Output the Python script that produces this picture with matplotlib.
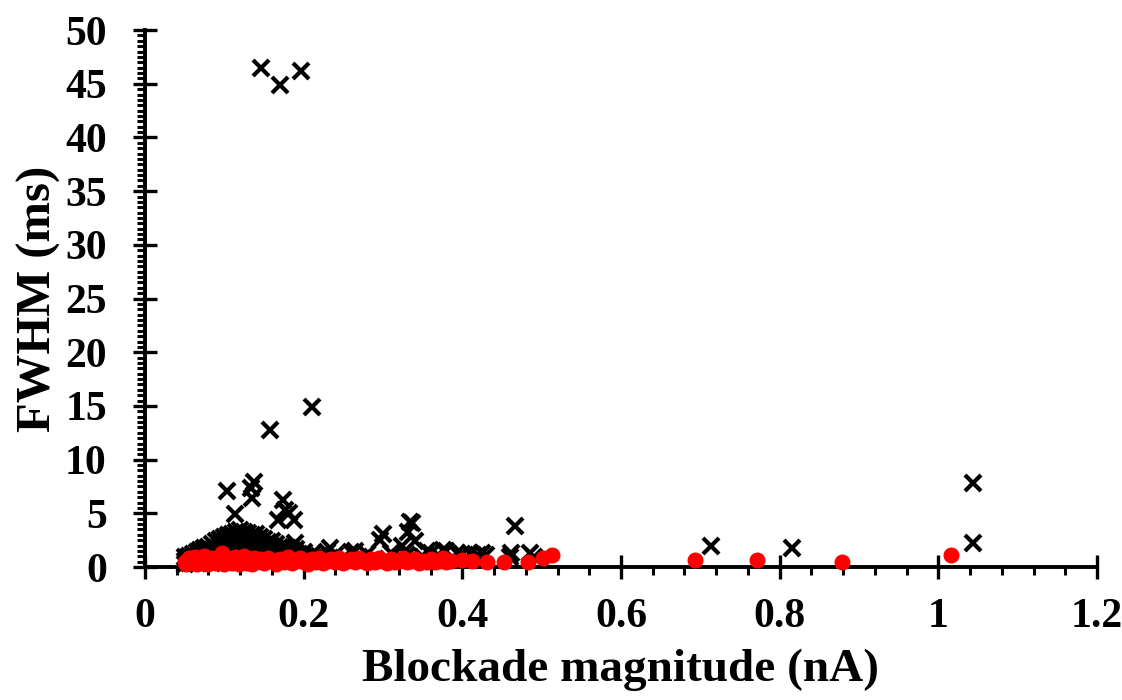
import matplotlib
matplotlib.use("Agg")
import matplotlib.pyplot as plt
from matplotlib.ticker import MultipleLocator

plt.rcParams["font.family"] = ["Liberation Serif", "DejaVu Serif"]
plt.rcParams["font.weight"] = "bold"

# Blockade events of the first population (black crosses): magnitude (nA), FWHM (ms)
cross_x = [
    0.050, 0.050, 0.050, 0.055, 0.055, 0.060, 0.060, 0.060, 0.065, 0.065, 0.065,
    0.070, 0.070, 0.070, 0.075, 0.075, 0.075, 0.075, 0.080, 0.080, 0.080,
    0.085, 0.085, 0.085, 0.085, 0.090, 0.090, 0.090, 0.090, 0.095, 0.095, 0.095, 0.095,
    0.100, 0.100, 0.100, 0.100, 0.100, 0.105, 0.105, 0.105, 0.105, 0.105,
    0.110, 0.110, 0.110, 0.110, 0.110, 0.115, 0.115, 0.115, 0.115, 0.115,
    0.120, 0.120, 0.120, 0.120, 0.120, 0.120, 0.125, 0.125, 0.125, 0.125, 0.125,
    0.130, 0.130, 0.130, 0.130, 0.130, 0.135, 0.135, 0.135, 0.135,
    0.140, 0.140, 0.140, 0.140, 0.140, 0.145, 0.145, 0.145, 0.145,
    0.150, 0.150, 0.150, 0.150, 0.155, 0.155, 0.155, 0.160, 0.160, 0.160, 0.160,
    0.165, 0.165, 0.165, 0.170, 0.170, 0.170, 0.175, 0.175, 0.175,
    0.180, 0.180, 0.180, 0.185, 0.185, 0.190, 0.190, 0.190, 0.200, 0.200,
    0.210, 0.210, 0.220, 0.230,
    0.233, 0.240, 0.250, 0.265, 0.270, 0.280, 0.290, 0.310, 0.320, 0.330,
    0.350, 0.355, 0.370, 0.376, 0.393, 0.400, 0.410, 0.425, 0.462, 0.485,
    0.146, 0.170, 0.197, 0.211, 0.158, 0.104, 0.137, 0.134, 0.135, 0.113,
    0.174, 0.177, 0.168, 0.188, 0.182, 0.189, 0.300, 0.296, 0.336, 0.334,
    0.332, 0.324, 0.340, 0.466, 0.229, 0.260, 0.360, 0.380, 0.420, 0.430,
    0.460, 0.490, 0.7135, 0.816, 1.044, 1.044,
]
cross_y = [
    0.3, 0.6, 0.9, 0.4, 1.0, 0.5, 0.8, 1.2, 0.4, 0.9, 1.4,
    0.6, 1.1, 1.6, 0.5, 1.0, 1.5, 1.8, 0.7, 1.3, 1.9,
    0.4, 0.9, 1.6, 2.1, 0.6, 1.2, 1.8, 2.4, 0.8, 1.5, 2.2, 2.6,
    0.5, 1.1, 1.7, 2.3, 2.8, 0.9, 1.4, 2.0, 2.6, 3.0,
    0.6, 1.2, 1.9, 2.5, 3.1, 0.8, 1.5, 2.2, 2.8, 3.3,
    0.5, 1.1, 1.8, 2.4, 3.0, 3.4, 0.9, 1.6, 2.2, 2.9, 3.3,
    0.7, 1.3, 2.0, 2.7, 3.2, 1.0, 1.7, 2.4, 3.0,
    0.6, 1.2, 1.9, 2.6, 3.1, 0.9, 1.5, 2.2, 2.8,
    0.7, 1.3, 2.0, 2.6, 1.0, 1.6, 2.3, 0.6, 1.2, 1.9, 2.4,
    0.9, 1.5, 2.1, 0.7, 1.3, 1.9, 1.0, 1.6, 2.0,
    0.8, 1.4, 1.8, 1.1, 1.6, 0.7, 1.3, 1.7, 0.9, 1.4,
    0.8, 1.2, 1.0, 0.8,
    1.8, 1.1, 0.8, 1.5, 0.9, 1.2, 0.7, 1.3, 0.8, 1.1,
    0.9, 1.5, 1.0, 1.6, 1.3, 1.2, 1.3, 1.3, 1.3, 1.3,
    46.5, 44.9, 46.2, 14.9, 12.8, 7.1, 7.9, 7.4, 6.4, 4.9,
    6.2, 5.3, 4.4, 4.4, 5.0, 2.2, 3.1, 2.5, 4.1, 4.2,
    3.3, 2.0, 2.4, 3.8, 1.4, 1.4, 1.3, 1.5, 1.1, 1.1,
    0.9, 0.9, 2.0, 1.8, 7.8, 2.2,
]

# Blockade events of the second population (red dots)
dot_x = [
    0.050, 0.052, 0.055, 0.058, 0.060, 0.063, 0.065, 0.068, 0.070, 0.073,
    0.075, 0.078, 0.080, 0.083, 0.085, 0.088, 0.090, 0.093, 0.095, 0.097,
    0.100, 0.103, 0.105, 0.108, 0.110, 0.113, 0.115, 0.118, 0.120, 0.123,
    0.125, 0.128, 0.130, 0.133, 0.135, 0.138, 0.140, 0.145, 0.150, 0.155,
    0.160, 0.165, 0.170, 0.175, 0.180, 0.185, 0.190, 0.195, 0.200, 0.205,
    0.210, 0.215, 0.220, 0.225, 0.230, 0.235, 0.240, 0.245, 0.250, 0.255,
    0.260, 0.265, 0.270, 0.275, 0.280, 0.285, 0.290, 0.295, 0.300, 0.305,
    0.310, 0.315, 0.320, 0.325, 0.330, 0.335, 0.340, 0.345, 0.350, 0.355,
    0.360, 0.365, 0.370, 0.376, 0.380, 0.386, 0.400, 0.412, 0.431, 0.452,
    0.483, 0.502, 0.513, 0.693, 0.771, 0.878, 1.016,
]
dot_y = [
    0.5, 0.3, 0.8, 0.4, 0.6, 0.9, 0.3, 0.5, 0.7, 0.4,
    1.0, 0.6, 0.3, 0.8, 0.5, 0.7, 0.4, 0.9, 0.6, 1.3,
    0.3, 0.8, 0.5, 0.7, 0.4, 0.9, 0.6, 0.3, 0.8, 0.5,
    1.0, 0.4, 0.7, 0.6, 0.3, 0.8, 0.5, 0.7, 0.4, 0.8,
    0.6, 0.3, 0.7, 0.5, 0.9, 0.4, 0.6, 0.8, 0.5, 0.3,
    0.7, 0.5, 0.8, 0.4, 0.6, 0.7, 0.5, 0.8, 0.4, 0.6,
    0.7, 0.5, 0.8, 0.6, 0.4, 0.7, 0.5, 0.8, 0.6, 0.4,
    0.7, 0.5, 0.6, 0.8, 0.5, 0.6, 0.7, 0.4, 0.6, 0.5,
    0.7, 0.5, 0.6, 0.8, 0.5, 0.6, 0.65, 0.6, 0.45, 0.5,
    0.5, 0.8, 1.1, 0.66, 0.66, 0.5, 1.1,
]

x_ticks = [0, 0.2, 0.4, 0.6, 0.8, 1.0, 1.2]
x_tick_labels = ["0", "0.2", "0.4", "0.6", "0.8", "1", "1.2"]
y_ticks = [0, 5, 10, 15, 20, 25, 30, 35, 40, 45, 50]

fig = plt.figure(figsize=(11.22, 7.0), dpi=100)
ax = fig.add_axes([0.1292, 0.19, 0.8485, 0.767])

ax.plot(cross_x, cross_y, linestyle="none", marker="x", color="black",
        markersize=12, markeredgewidth=3.0, zorder=3, clip_on=False)
ax.plot(dot_x, dot_y, linestyle="none", marker="o", color="#ff0000",
        markeredgecolor="#ff0000", markersize=10.5, zorder=4, clip_on=False)

ax.set_xlim(0, 1.2)
ax.set_ylim(0, 50)
ax.set_xticks(x_ticks)
ax.set_xticklabels(x_tick_labels)
ax.set_yticks(y_ticks)
ax.xaxis.set_minor_locator(MultipleLocator(0.04))
ax.yaxis.set_minor_locator(MultipleLocator(0.5))

for side in ("top", "right"):
    ax.spines[side].set_visible(False)
for side in ("left", "bottom"):
    ax.spines[side].set_linewidth(2.8)

ax.tick_params(which="major", direction="inout", length=17, width=2.4,
               labelsize=30)
ax.tick_params(axis="x", which="major", pad=14)
ax.tick_params(axis="y", which="major", pad=19)
ax.tick_params(which="minor", direction="out", length=6, width=2.2)

for lbl in ax.get_xticklabels() + ax.get_yticklabels():
    lbl.set_fontweight("bold")

ax.set_xlabel("Blockade magnitude (nA)", fontsize=34, fontweight="bold", labelpad=9)
ax.set_ylabel("FWHM (ms)", fontsize=35, fontweight="bold", labelpad=3)

fig.savefig("out.png", dpi=100)
